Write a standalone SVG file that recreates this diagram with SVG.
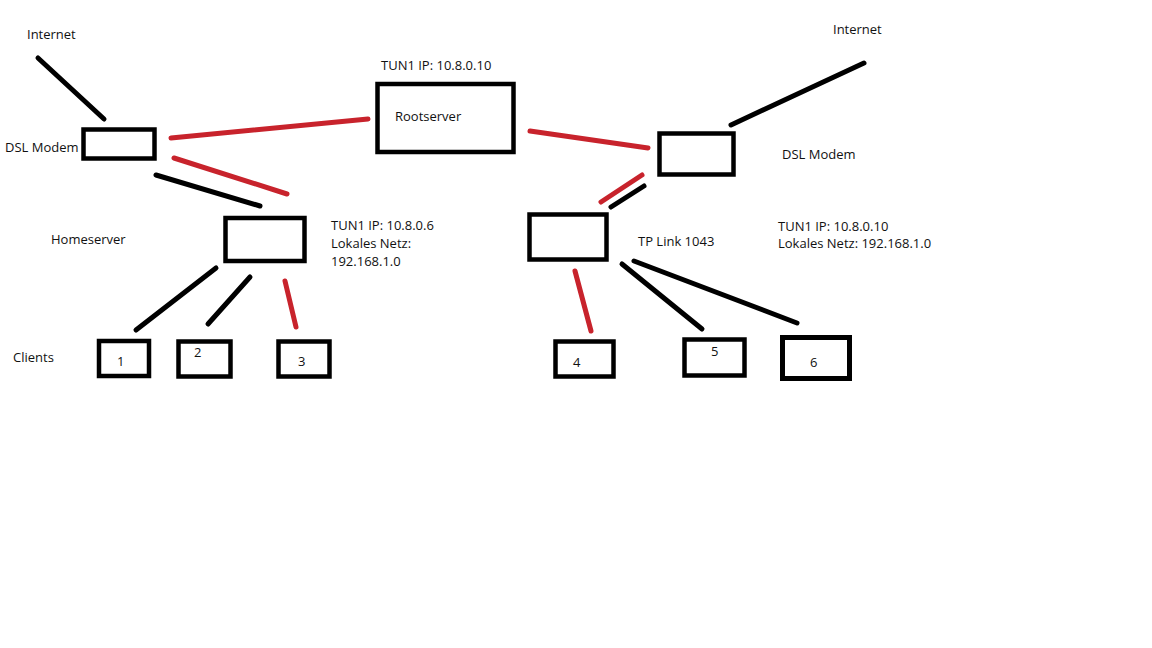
<svg xmlns="http://www.w3.org/2000/svg" width="1152" height="648" viewBox="0 0 1152 648">
<style>
  text { font-family: "Open Sans", "Noto Sans", "Liberation Sans", sans-serif; font-size: 13px; fill: #111; }
  .box { fill: #fff; stroke: #000; stroke-width: 4.5; }
  .blk { stroke: #000; stroke-width: 5; stroke-linecap: round; fill: none; }
  .red { stroke: #c8232c; stroke-width: 5; stroke-linecap: round; fill: none; }
</style>
<rect x="0" y="0" width="1152" height="648" fill="#fff"/>

<g id="connectors">
  <line class="blk" x1="38" y1="58" x2="104" y2="119"/>
  <line class="red" x1="171" y1="138" x2="368" y2="119"/>
  <line class="red" x1="174" y1="158" x2="287" y2="194"/>
  <line class="blk" x1="156" y1="175" x2="260" y2="206"/>
  <line class="red" x1="530" y1="131" x2="648" y2="148"/>
  <line class="blk" x1="731" y1="125" x2="864" y2="63"/>
  <line class="red" x1="601" y1="202" x2="642" y2="175"/>
  <line class="blk" x1="611" y1="207" x2="644" y2="186"/>
  <line class="blk" x1="216" y1="268" x2="136" y2="330"/>
  <line class="blk" x1="250" y1="277" x2="208" y2="324"/>
  <line class="red" x1="285" y1="281" x2="296" y2="327"/>
  <line class="red" x1="575" y1="271" x2="591" y2="331"/>
  <line class="blk" x1="622" y1="264" x2="702" y2="329"/>
  <line class="blk" x1="634" y1="261" x2="797" y2="323"/>
</g>

<g id="internet-left"><text x="27" y="39">Internet</text></g>
<g id="internet-right"><text x="833" y="34">Internet</text></g>

<g id="dsl-left">
  <rect class="box" x="83.5" y="129.5" width="71" height="29"/>
  <text x="5" y="152">DSL Modem</text>
</g>

<g id="rootserver">
  <rect class="box" x="377.5" y="84" width="136" height="68"/>
  <text x="395" y="121">Rootserver</text>
  <text x="381" y="70">TUN1 IP: 10.8.0.10</text>
</g>

<g id="dsl-right">
  <rect class="box" x="659.5" y="133.5" width="74" height="41"/>
  <text x="782" y="159">DSL Modem</text>
</g>

<g id="homeserver">
  <rect class="box" x="225.5" y="218" width="79" height="43"/>
  <text x="51" y="244">Homeserver</text>
  <text x="331" y="230">TUN1 IP: 10.8.0.6</text>
  <text x="331" y="248">Lokales Netz:</text>
  <text x="331" y="266">192.168.1.0</text>
</g>

<g id="tplink">
  <rect class="box" x="529.5" y="214.5" width="77" height="45"/>
  <text x="638" y="246">TP Link 1043</text>
  <text x="778" y="231">TUN1 IP: 10.8.0.10</text>
  <text x="778" y="248">Lokales Netz: 192.168.1.0</text>
</g>

<g id="clients-label"><text x="13" y="362">Clients</text></g>

<g id="client1">
  <rect class="box" x="99" y="341" width="50" height="35"/>
  <text x="117" y="366">1</text>
</g>
<g id="client2">
  <rect class="box" x="178.5" y="341.5" width="52" height="35"/>
  <text x="194" y="357">2</text>
</g>
<g id="client3">
  <rect class="box" x="278.5" y="341.5" width="51" height="35"/>
  <text x="298" y="366">3</text>
</g>
<g id="client4">
  <rect class="box" x="555.5" y="341.5" width="58" height="35"/>
  <text x="573" y="367">4</text>
</g>
<g id="client5">
  <rect class="box" x="684.5" y="339.5" width="60" height="36"/>
  <text x="711" y="356">5</text>
</g>
<g id="client6">
  <rect class="box" x="782.5" y="337.5" width="67" height="41" style="stroke-width:5"/>
  <text x="810" y="367">6</text>
</g>
</svg>
